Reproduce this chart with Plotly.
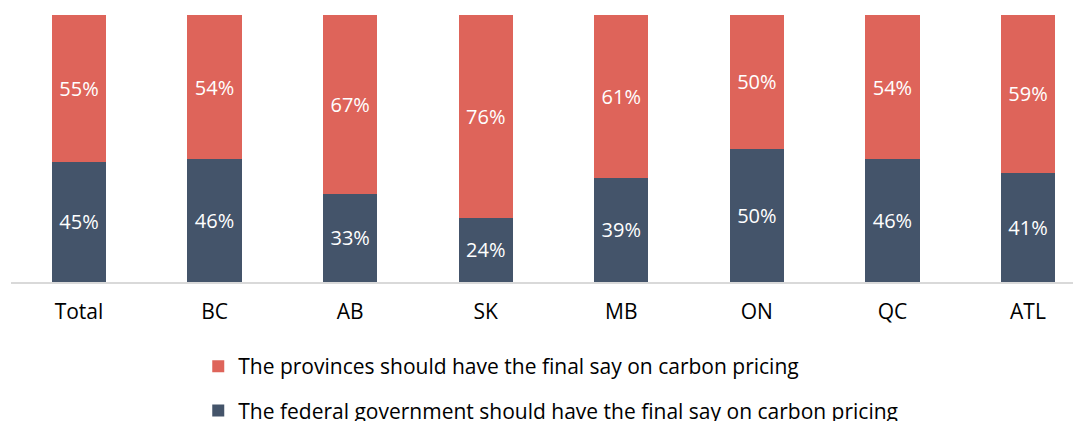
import plotly.graph_objects as go

categories = ["Total", "BC", "AB", "SK", "MB", "ON", "QC", "ATL"]
federal = [45, 46, 33, 24, 39, 50, 46, 41]
provinces = [55, 54, 67, 76, 61, 50, 54, 59]
federal_name = "The federal government should have the final say on carbon pricing"
provinces_name = "The provinces should have the final say on carbon pricing"

FONT = "Open Sans, sans-serif"
DARK = "#44546A"
RED = "#DE645A"

fig = go.Figure()
fig.add_trace(go.Bar(
    x=categories, y=federal, name=federal_name, marker=dict(color=DARK, line=dict(width=0)),
    text=[f"{v}%" for v in federal], textposition="inside", insidetextanchor="middle",
    textfont=dict(color="white", size=20, family=FONT), width=0.4, legendgroup="f",
    legendrank=2,
))
fig.add_trace(go.Bar(
    x=categories, y=provinces, name=provinces_name, marker=dict(color=RED, line=dict(width=0)),
    text=[f"{v}%" for v in provinces], textposition="inside", insidetextanchor="middle",
    textfont=dict(color="white", size=20, family=FONT), width=0.4, legendgroup="p",
    legendrank=1,
))

fig.update_layout(
    barmode="stack",
    width=1081, height=421,
    margin=dict(l=3, r=8, t=7, b=147, autoexpand=False),
    paper_bgcolor="white", plot_bgcolor="white",
    font=dict(family=FONT, size=21, color="#000000"),
    showlegend=True,
    legend=dict(orientation="v", x=0.175, xanchor="left", y=-0.24, yanchor="top",
                traceorder="grouped", tracegroupgap=14, itemwidth=30,
                font=dict(size=21, family=FONT, color="#000000"), bgcolor="rgba(0,0,0,0)"),
    xaxis=dict(range=[-0.5016, 7.391], showline=True, linecolor="#D9D9D9", linewidth=1.5,
               ticks="", showgrid=False, tickfont=dict(size=21, family=FONT), ticklabelstandoff=10),
    yaxis=dict(range=[0, 100], visible=False, showgrid=False),
    uniformtext=dict(mode="show", minsize=10),
)

fig.write_html("out.html")
